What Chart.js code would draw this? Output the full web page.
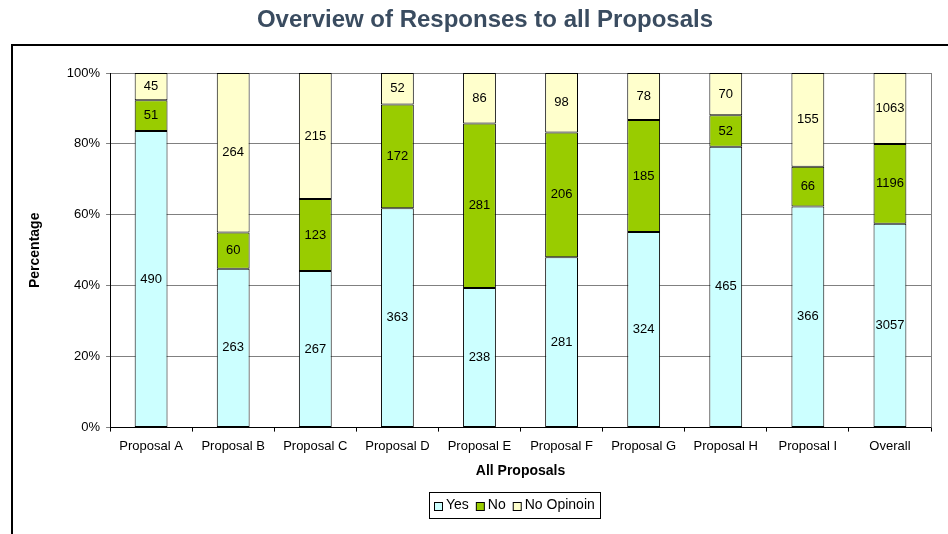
<!DOCTYPE html>
<html>
<head>
<meta charset="utf-8">
<script src="https://cdn.jsdelivr.net/npm/chart.js@4"></script>
<style>
html,body{margin:0;padding:0;background:#fff;}
#wrap{width:948px;height:534px;}
</style>
</head>
<body>
<div id="wrap"><canvas id="c" width="948" height="534"></canvas></div>
<script>
const categories = ['Proposal A','Proposal B','Proposal C','Proposal D','Proposal E','Proposal F','Proposal G','Proposal H','Proposal I','Overall'];
const yesCounts = [490, 263, 267, 363, 238, 281, 324, 465, 366, 3057];
const noCounts = [51, 60, 123, 172, 281, 206, 185, 52, 66, 1196];
const noOpinionCounts = [45, 264, 215, 52, 86, 98, 78, 70, 155, 1063];
const seriesNames = ['Yes', 'No', 'No Opinoin'];
const yTickLabels = ['0%','20%','40%','60%','80%','100%'];
const chartTitle = 'Overview of Responses to all Proposals';

const FONT = 'Arial, "Liberation Sans", sans-serif';
const totals = categories.map((_, i) => yesCounts[i] + noCounts[i] + noOpinionCounts[i]);
const pct = arr => arr.map((v, i) => v / totals[i] * 100);
const countsBySeries = [yesCounts, noCounts, noOpinionCounts];
const colors = ['#CCFFFF', '#99CC00', '#FFFFCC'];

const datasets = countsBySeries.map((arr, k) => ({
  label: seriesNames[k],
  data: pct(arr),
  counts: arr,
  backgroundColor: colors[k],
  borderColor: '#000',
  borderWidth: 1,
  borderSkipped: false,
  categoryPercentage: 1.0,
  barPercentage: 0.40
}));

const framePlugin = {
  id: 'frame',
  afterDraw(chart) {
    const ctx = chart.ctx;
    const ca = chart.chartArea;
    ctx.save();
    // title
    ctx.fillStyle = '#3A4C60';
    ctx.font = 'bold 24px ' + FONT;
    ctx.textAlign = 'center';
    ctx.textBaseline = 'middle';
    ctx.fillText(chartTitle, 485, 20);
    // outer frame (left + top)
    ctx.strokeStyle = '#000';
    ctx.lineWidth = 2;
    ctx.beginPath();
    ctx.moveTo(12, 540);
    ctx.lineTo(12, 45);
    ctx.lineTo(960, 45);
    ctx.stroke();
    // plot area right border
    ctx.strokeStyle = '#808080';
    ctx.lineWidth = 1;
    ctx.beginPath();
    ctx.moveTo(Math.round(ca.right) + 0.5, ca.top);
    ctx.lineTo(Math.round(ca.right) + 0.5, ca.bottom);
    ctx.stroke();
    // data labels
    ctx.fillStyle = '#000';
    ctx.font = '13px ' + FONT;
    ctx.textAlign = 'center';
    ctx.textBaseline = 'middle';
    chart.data.datasets.forEach((ds, di) => {
      const meta = chart.getDatasetMeta(di);
      meta.data.forEach((bar, i) => {
        const y = (bar.y + bar.base) / 2;
        ctx.fillText(String(ds.counts[i]), bar.x, y);
      });
    });
    // legend
    ctx.font = '14px ' + FONT;
    const sq = 8, gapSqText = 4, itemGap = 7, padX = 5;
    const widths = seriesNames.map(n => sq + gapSqText + ctx.measureText(n).width);
    const total = widths.reduce((a, b) => a + b, 0) + itemGap * (widths.length - 1) + padX * 2;
    const cx = 514, top = 492, h = 26;
    const left = Math.round(cx - total / 2);
    ctx.strokeStyle = '#000';
    ctx.lineWidth = 1;
    ctx.strokeRect(left + 0.5, top + 0.5, Math.round(total), h);
    let x = left + padX;
    const yc = top + h / 2 + 0.5;
    ctx.textAlign = 'left';
    seriesNames.forEach((n, k) => {
      ctx.fillStyle = colors[k];
      ctx.fillRect(x + 0.5, Math.round(yc - sq / 2) + 0.5, sq, sq);
      ctx.strokeRect(x + 0.5, Math.round(yc - sq / 2) + 0.5, sq, sq);
      ctx.fillStyle = '#000';
      ctx.fillText(n, x + sq + gapSqText, yc);
      x += widths[k] + itemGap;
    });
    ctx.restore();
  }
};

new Chart(document.getElementById('c'), {
  type: 'bar',
  data: { labels: categories, datasets },
  options: {
    responsive: false,
    animation: false,
    layout: { padding: { left: 27, right: 17, top: 73, bottom: 54 } },
    plugins: {
      title: { display: false },
      legend: { display: false },
      tooltip: { enabled: false }
    },
    scales: {
      x: {
        stacked: true,
        grid: { display: true, drawOnChartArea: false, drawTicks: true, tickLength: 4, offset: true, color: '#000' },
        border: { color: '#000', width: 1 },
        ticks: { color: '#000', font: { family: FONT, size: 13 }, maxRotation: 0, padding: 7 },
        title: { display: true, text: 'All Proposals', color: '#000', font: { family: FONT, size: 14, weight: 'bold' }, padding: { top: 2, bottom: 0 } }
      },
      y: {
        stacked: true,
        min: 0,
        max: 100,
        grid: { color: '#808080', tickLength: 4, drawTicks: true },
        border: { color: '#000', width: 1 },
        ticks: {
          stepSize: 20,
          color: '#000',
          padding: 6,
          font: { family: FONT, size: 13 },
          callback: (v) => yTickLabels[Math.round(v / 20)]
        },
        title: { display: true, text: 'Percentage', color: '#000', font: { family: FONT, size: 14, weight: 'bold' }, padding: { top: 0, bottom: 17 } }
      }
    }
  },
  plugins: [framePlugin]
});
</script>
</body>
</html>
